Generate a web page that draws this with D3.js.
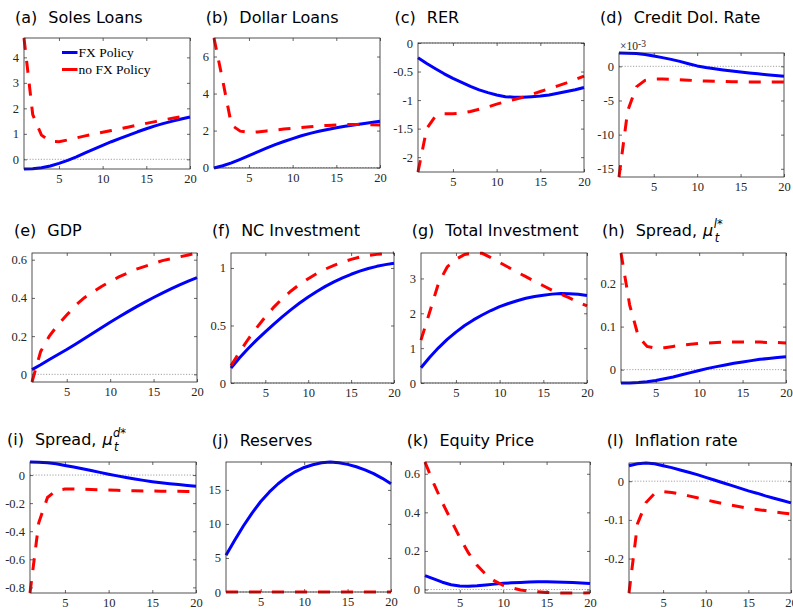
<!DOCTYPE html>
<html><head><meta charset="utf-8">
<script src="https://cdn.jsdelivr.net/npm/d3@7/dist/d3.min.js"></script>
<style>body{margin:0;background:#fff}</style>
</head><body>
<svg id="chart" width="793" height="609"></svg>
<script>
// ---------------- data ----------------
const periods = d3.range(1, 21);
const xTicks = [5, 10, 15, 20];
const seriesNames = ["FX Policy", "no FX Policy"];

const fxSolesLoans   = [-0.38,-0.37,-0.33,-0.26,-0.16,-0.04,0.1,0.25,0.4,0.55,0.69,0.82,0.95,1.08,1.2,1.31,1.41,1.5,1.58,1.66];
const noFxSolesLoans = [4.76,1.75,0.95,0.7,0.69,0.76,0.84,0.92,0.99,1.06,1.13,1.2,1.27,1.34,1.41,1.48,1.55,1.61,1.67,1.73];

const fxDollarLoans   = [-0.02,0.1,0.26,0.45,0.65,0.85,1.05,1.24,1.41,1.57,1.72,1.85,1.96,2.06,2.15,2.23,2.3,2.37,2.44,2.5];
const noFxDollarLoans = [7.0,4.7,2.3,1.97,1.9,1.93,1.98,2.03,2.08,2.13,2.17,2.21,2.25,2.28,2.3,2.32,2.33,2.33,2.32,2.3];

const fxRER   = [-0.26,-0.36,-0.45,-0.54,-0.62,-0.69,-0.76,-0.82,-0.87,-0.91,-0.94,-0.95,-0.95,-0.94,-0.93,-0.91,-0.88,-0.85,-0.82,-0.78];
const noFxRER = [-2.26,-1.5,-1.28,-1.24,-1.24,-1.23,-1.2,-1.16,-1.12,-1.07,-1.03,-0.99,-0.95,-0.9,-0.85,-0.8,-0.75,-0.7,-0.64,-0.58];

const fxCreditDolRate   = [0.00195,0.00193,0.00186,0.00172,0.0015,0.00127,0.00102,0.00072,0.00038,0.00006,-0.00017,-0.00036,-0.00053,-0.00069,-0.00083,-0.00097,-0.0011,-0.00123,-0.00135,-0.00147];
const noFxCreditDolRate = [-0.0162,-0.0065,-0.003,-0.00205,-0.00185,-0.00185,-0.0019,-0.00197,-0.00203,-0.0021,-0.00215,-0.0022,-0.00223,-0.00226,-0.00228,-0.0023,-0.0023,-0.0023,-0.0023,-0.0023];

const fxGDP   = [0.025,0.05,0.078,0.104,0.13,0.158,0.186,0.215,0.244,0.273,0.3,0.327,0.353,0.378,0.402,0.425,0.447,0.468,0.488,0.506];
const noFxGDP = [-0.04,0.12,0.2,0.26,0.31,0.36,0.4,0.43,0.46,0.485,0.51,0.53,0.55,0.565,0.58,0.595,0.605,0.615,0.625,0.635];

const fxNCInvestment   = [0.13,0.22,0.3,0.375,0.445,0.512,0.577,0.638,0.695,0.748,0.796,0.84,0.879,0.914,0.945,0.972,0.995,1.014,1.029,1.04];
const noFxNCInvestment = [0.15,0.27,0.38,0.48,0.575,0.66,0.735,0.8,0.857,0.907,0.952,0.99,1.023,1.051,1.075,1.094,1.108,1.118,1.125,1.13];

const fxTotalInvestment   = [0.44,0.74,1.01,1.25,1.46,1.65,1.81,1.95,2.08,2.19,2.28,2.36,2.43,2.48,2.52,2.55,2.565,2.56,2.545,2.51];
const noFxTotalInvestment = [1.23,2.04,2.86,3.33,3.55,3.69,3.73,3.72,3.6,3.46,3.32,3.18,3.05,2.92,2.79,2.66,2.55,2.44,2.32,2.21];

const fxSpreadL   = [-0.031,-0.031,-0.03,-0.028,-0.025,-0.021,-0.017,-0.012,-0.007,-0.002,0.003,0.007,0.011,0.015,0.018,0.021,0.024,0.026,0.028,0.03];
const noFxSpreadL = [0.271,0.15,0.077,0.054,0.05,0.051,0.054,0.057,0.059,0.061,0.062,0.063,0.064,0.064,0.064,0.064,0.064,0.063,0.063,0.062];

const fxSpreadD   = [0.093,0.092,0.088,0.08,0.068,0.057,0.045,0.032,0.019,0.006,-0.006,-0.017,-0.028,-0.038,-0.047,-0.055,-0.062,-0.068,-0.074,-0.079];
const noFxSpreadD = [-0.84,-0.34,-0.16,-0.11,-0.1,-0.1,-0.101,-0.103,-0.105,-0.107,-0.109,-0.111,-0.112,-0.113,-0.114,-0.115,-0.116,-0.116,-0.117,-0.117];

const fxReserves   = [5.4,7.6,9.7,11.6,13.3,14.7,15.9,16.9,17.7,18.3,18.7,19.0,19.1,19.0,18.75,18.4,17.95,17.4,16.7,15.9];
const noFxReserves = [0,0,0,0,0,0,0,0,0,0,0,0,0,0,0,0,0,0,0,0];

const fxEquityPrice   = [0.072,0.055,0.038,0.025,0.018,0.017,0.019,0.023,0.028,0.032,0.035,0.037,0.039,0.04,0.04,0.039,0.038,0.036,0.034,0.031];
const noFxEquityPrice = [0.661,0.55,0.45,0.36,0.27,0.19,0.125,0.078,0.045,0.022,0.008,-0.002,-0.008,-0.012,-0.015,-0.017,-0.018,-0.018,-0.018,-0.017];

const fxInflation   = [0.04,0.045,0.047,0.045,0.04,0.035,0.029,0.023,0.017,0.01,0.003,-0.004,-0.011,-0.018,-0.025,-0.031,-0.038,-0.044,-0.05,-0.056];
const noFxInflation = [-0.289,-0.11,-0.055,-0.032,-0.027,-0.029,-0.033,-0.038,-0.043,-0.048,-0.053,-0.058,-0.062,-0.066,-0.07,-0.073,-0.076,-0.079,-0.082,-0.085];

const panelLetters = ["(a)","(b)","(c)","(d)","(e)","(f)","(g)","(h)","(i)","(j)","(k)","(l)"];
const panelTitles  = ["Soles Loans","Dollar Loans","RER","Credit Dol. Rate","GDP","NC Investment","Total Investment","Spread,","Spread,","Reserves","Equity Price","Inflation rate"];
const titleMathSup = [null,null,null,null,null,null,null,"l*","d*",null,null,null];

const yTicksA = [0,1,2,3,4];
const yTicksB = [0,2,4,6];
const yTicksC = [-2,-1.5,-1,-0.5,0];
const yTicksD = [-0.015,-0.01,-0.005,0];
const yTicksE = [0,0.2,0.4,0.6];
const yTicksF = [0,0.5,1];
const yTicksG = [0,1,2,3];
const yTicksH = [0,0.1,0.2];
const yTicksI = [-0.8,-0.6,-0.4,-0.2,0];
const yTicksJ = [0,5,10,15];
const yTicksK = [0,0.2,0.4,0.6];
const yTicksL = [-0.2,-0.1,0];

// ---------------- layout ----------------
const boxes = [
  [24,38,190,169],[214,38,380,168],[418,43,584,172],[619,53,784,177],
  [32,253,197,382],[231,253,394,383],[421,253,587,383],[621,253,786,383],
  [30,462,196,593],[226,462,391,592],[425,462,590,593],[629,463,791,593]
];
const titlePos = [
  [15,22.5],[205.7,22.5],[394.5,22.5],[600,22.5],
  [14,236],[212,236],[411.7,236],[602,236],
  [7,445],[211.7,446],[406.7,446],[606.7,446]
];

const fxSeries   = [fxSolesLoans,fxDollarLoans,fxRER,fxCreditDolRate,fxGDP,fxNCInvestment,fxTotalInvestment,fxSpreadL,fxSpreadD,fxReserves,fxEquityPrice,fxInflation];
const noFxSeries = [noFxSolesLoans,noFxDollarLoans,noFxRER,noFxCreditDolRate,noFxGDP,noFxNCInvestment,noFxTotalInvestment,noFxSpreadL,noFxSpreadD,noFxReserves,noFxEquityPrice,noFxInflation];
const yTickSets  = [yTicksA,yTicksB,yTicksC,yTicksD,yTicksE,yTicksF,yTicksG,yTicksH,yTicksI,yTicksJ,yTicksK,yTicksL];

const BLUE = "#0000ff", RED = "#ff0000", AX = "#262626";
const TICKFONT = "'Liberation Serif','Times New Roman',serif";
const TITLEFONT = "'DejaVu Sans',sans-serif";
const DASH = "12,11";

const svg = d3.select("#chart");
svg.append("rect").attr("width",793).attr("height",609).attr("fill","#fff");

panelTitles.forEach((title, i) => {
  const [l,t,r,b] = boxes[i];
  const fx = fxSeries[i], nofx = noFxSeries[i];
  const all = fx.concat(nofx, [0]);
  const x = d3.scaleLinear().domain([1,20]).range([l,r]);
  const y = d3.scaleLinear().domain([d3.min(all), d3.max(all)]).range([b,t]);
  const isD = (i === 3);
  const fmt = isD ? (d => String(Math.round(d*1000))) : (d => String(d));
  const g = svg.append("g");

  // zero reference line
  g.append("line").attr("x1",l).attr("x2",r).attr("y1",y(0)).attr("y2",y(0))
    .attr("stroke","#8a8a8a").attr("stroke-width",0.8).attr("stroke-dasharray","1.2,1.6");

  // axes
  const styleAxis = sel => {
    sel.select(".domain").remove();
    sel.selectAll(".tick line").attr("stroke",AX).attr("stroke-width",0.7);
    sel.selectAll(".tick text").attr("fill",AX).attr("font-family",TICKFONT).attr("font-size",12.5);
  };
  g.append("g").attr("transform",`translate(0,${b})`)
    .call(d3.axisBottom(x).tickValues(xTicks).tickSize(-3).tickPadding(5.5).tickFormat(d=>String(d)))
    .call(styleAxis);
  g.append("g").attr("transform",`translate(0,${t})`)
    .call(d3.axisTop(x).tickValues(xTicks).tickSize(-3).tickFormat(""))
    .call(styleAxis);
  g.append("g").attr("transform",`translate(${l},0)`)
    .call(d3.axisLeft(y).tickValues(yTickSets[i]).tickSize(-3).tickPadding(5).tickFormat(fmt))
    .call(styleAxis);
  g.append("g").attr("transform",`translate(${r},0)`)
    .call(d3.axisRight(y).tickValues(yTickSets[i]).tickSize(-3).tickFormat(""))
    .call(styleAxis);

  // lines
  const line = d3.line().x((d,k)=>x(periods[k])).y(d=>y(d));
  g.append("path").datum(fx).attr("d",line).attr("fill","none")
    .attr("stroke",BLUE).attr("stroke-width",3).attr("stroke-linejoin","round");
  g.append("path").datum(nofx).attr("d",line).attr("fill","none")
    .attr("stroke",RED).attr("stroke-width",3).attr("stroke-dasharray",DASH);

  // box
  g.append("rect").attr("x",l).attr("y",t).attr("width",r-l).attr("height",b-t)
    .attr("fill","none").attr("stroke",AX).attr("stroke-width",0.8);

  // exponent label
  if (isD) {
    const ex = g.append("text").attr("x",l+1).attr("y",t-3)
      .attr("font-family",TICKFONT).attr("font-size",11.5).attr("fill",AX);
    ex.append("tspan").text("\u00d710");
    ex.append("tspan").attr("font-size",9.5).attr("dy",-3).text("-3");
  }

  // title
  const [tx,ty] = titlePos[i];
  const lt = svg.append("text").attr("x",tx).attr("y",ty)
    .attr("font-family",TITLEFONT).attr("font-size",16).attr("fill","#000").text(panelLetters[i]);
  const lw = lt.node().getComputedTextLength();
  const mt = svg.append("text").attr("x",tx+lw+11).attr("y",ty)
    .attr("font-family",TITLEFONT).attr("font-size",16).attr("fill","#000")
    .attr("xml:space","preserve").style("white-space","pre");
  mt.append("tspan").text(title);
  if (titleMathSup[i]) {
    mt.append("tspan").attr("dx",6).attr("font-style","italic").text("\u03bc");
    const mw = mt.node().getComputedTextLength() + 6;
    const sx = tx+lw+11+mw+0.5;
    svg.append("text").attr("x",sx).attr("y",ty-8).attr("font-family",TITLEFONT)
      .attr("font-style","italic").attr("font-size",11.5).attr("fill","#000").text(titleMathSup[i]);
    svg.append("text").attr("x",sx+1).attr("y",ty+5.5).attr("font-family",TITLEFONT)
      .attr("font-style","italic").attr("font-size",11.5).attr("fill","#000").text("t");
  }
});

// legend in panel (a)
const lg = svg.append("g");
const legendRows = [{name:seriesNames[0],color:BLUE,y:52.5},{name:seriesNames[1],color:RED,y:69.5}];
legendRows.forEach(rw => {
  lg.append("line").attr("x1",62).attr("x2",77.5).attr("y1",rw.y).attr("y2",rw.y)
    .attr("stroke",rw.color).attr("stroke-width",3);
  lg.append("text").attr("x",78.5).attr("y",rw.y+4.5).attr("font-family",TICKFONT)
    .attr("font-size",13.5).attr("fill","#000").text(rw.name);
});
</script>
</body></html>
